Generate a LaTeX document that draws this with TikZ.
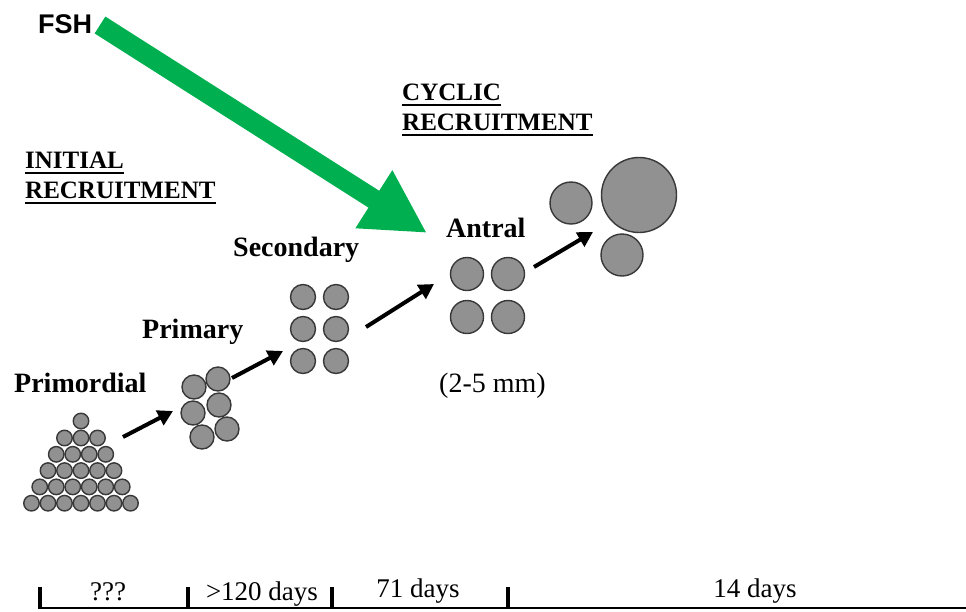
\documentclass[tikz,border=0pt]{standalone}
\usepackage{fontspec}
\setmainfont{Liberation Serif}
\newfontfamily\fshfont{Liberation Sans}
\usetikzlibrary{arrows.meta}
\definecolor{fshgreen}{RGB}{0,176,80}

\begin{document}
\begin{tikzpicture}[x=1pt,y=-1pt,
                foll/.style={circle,draw=black!78,line width=1.4pt,fill=black!43,inner sep=0pt,minimum size=#1},
                lbl/.style={anchor=base west,inner sep=0pt,font=\fontsize{28}{30}\selectfont\bfseries},
                heading/.style={anchor=base west,inner sep=0pt,font=\fontsize{25}{27}\selectfont\bfseries},
                uline/.style={line width=1.6pt},
                stagearrow/.style={line width=4pt,-{Triangle[length=15pt,width=16pt]}},
                days/.style={anchor=base,inner sep=0pt,font=\fontsize{27}{29}\selectfont}]
                \useasboundingbox (0,0) rectangle (966,611);

                % headings
                \node[heading] (ini1) at (25,168) {INITIAL};
                \node[heading] (ini2) at (25,198) {RECRUITMENT};
                \node[heading] (cyc1) at (402,100) {CYCLIC};
                \node[heading] (cyc2) at (402,130) {RECRUITMENT};
                \foreach \n in {ini1,ini2,cyc1,cyc2}
                    \draw[uline] ([yshift=-5pt]\n.base west) -- ([yshift=-5pt]\n.base east);

                % stage labels
                \node[lbl] (lprm) at (14,392) {Primordial};
                \node[lbl] (lpri) at (142,338) {Primary};
                \node[lbl] (lsec) at (233,256) {Secondary};
                \node[lbl] (lant) at (446,237) {Antral};
                \node[anchor=base west,inner sep=0pt,font=\fontsize{28}{30}\selectfont] (lmm) at (439,392) {(2-5 mm)};

                % primordial follicles
                \node[foll=15.5pt] (pm0) at (81,421) {};
                \foreach \r in {1,...,5}
                    \foreach \i in {0,...,\numexpr\r+1\relax}
                        \node[foll=15.5pt] (pm\r\i) at ({81+16.5*(\i-(\r+1)/2)},{438+16.3*(\r-1)}) {};

                % primary follicles
                \node[foll=24pt] (pr1) at (194,387) {};
                \node[foll=24pt] (pr2) at (218,379) {};
                \node[foll=24pt] (pr3) at (193,413) {};
                \node[foll=24pt] (pr4) at (219,405) {};
                \node[foll=24pt] (pr5) at (227,429) {};
                \node[foll=24pt] (pr6) at (202,437) {};

                % secondary follicles
                \foreach \yy [count=\k] in {297,329,361} {
                    \node[foll=25pt] (se\k a) at (303,\yy) {};
                    \node[foll=25pt] (se\k b) at (336,\yy) {};
                }

                % antral follicles
                \node[foll=33pt] (an1) at (467,274) {};
                \node[foll=33pt] (an2) at (508,274) {};
                \node[foll=33pt] (an3) at (467,317) {};
                \node[foll=33pt] (an4) at (508,317) {};

                % selected follicles
                \node[foll=42pt] (cy1) at (571,203) {};
                \node[foll=75pt] (cy2) at (639,195) {};
                \node[foll=42pt] (cy3) at (622,255) {};

                % stage arrows
                \coordinate (a1s) at (123,437);
                \coordinate (a1e) at (173,411);
                \coordinate (a2s) at (232,378);
                \coordinate (a2e) at (283,351);
                \coordinate (a3s) at (366,327);
                \coordinate (a3e) at (434,284);
                \coordinate (a4s) at (534,267);
                \coordinate (a4e) at (593,232);
                \draw[stagearrow] (a1s) -- (a1e);
                \draw[stagearrow] (a2s) -- (a2e);
                \draw[stagearrow] (a3s) -- (a3e);
                \draw[stagearrow] (a4s) -- (a4e);

                % FSH
                \node[anchor=base west,inner sep=0pt,font=\fshfont\fontsize{27}{29}\selectfont\bfseries] (fsh) at (38,33) {FSH};
                \coordinate (fshs) at (100,25);
                \coordinate (fshe) at (427,233);
                \draw[fshgreen,line width=20pt,-{Triangle[length=63pt,width=64pt]}] (fshs) -- (fshe);

                % time line
                \coordinate (tl) at (38,608);
                \coordinate (tr) at (966,608);
                \draw[line width=2pt] (tl) -- (tr);
                \foreach \tx [count=\k] in {40,188,332,508} {
                    \coordinate (t\k) at (\tx,609);
                    \draw[line width=4pt] (t\k) -- ++(0,-22);
                }
                \node[days] (d1) at (108,600) {???};
                \node[days] (d2) at (262,600) {>120 days};
                \node[days] (d3) at (418,597) {71 days};
                \node[days] (d4) at (755,597) {14 days};
            \end{tikzpicture}
\end{document}
